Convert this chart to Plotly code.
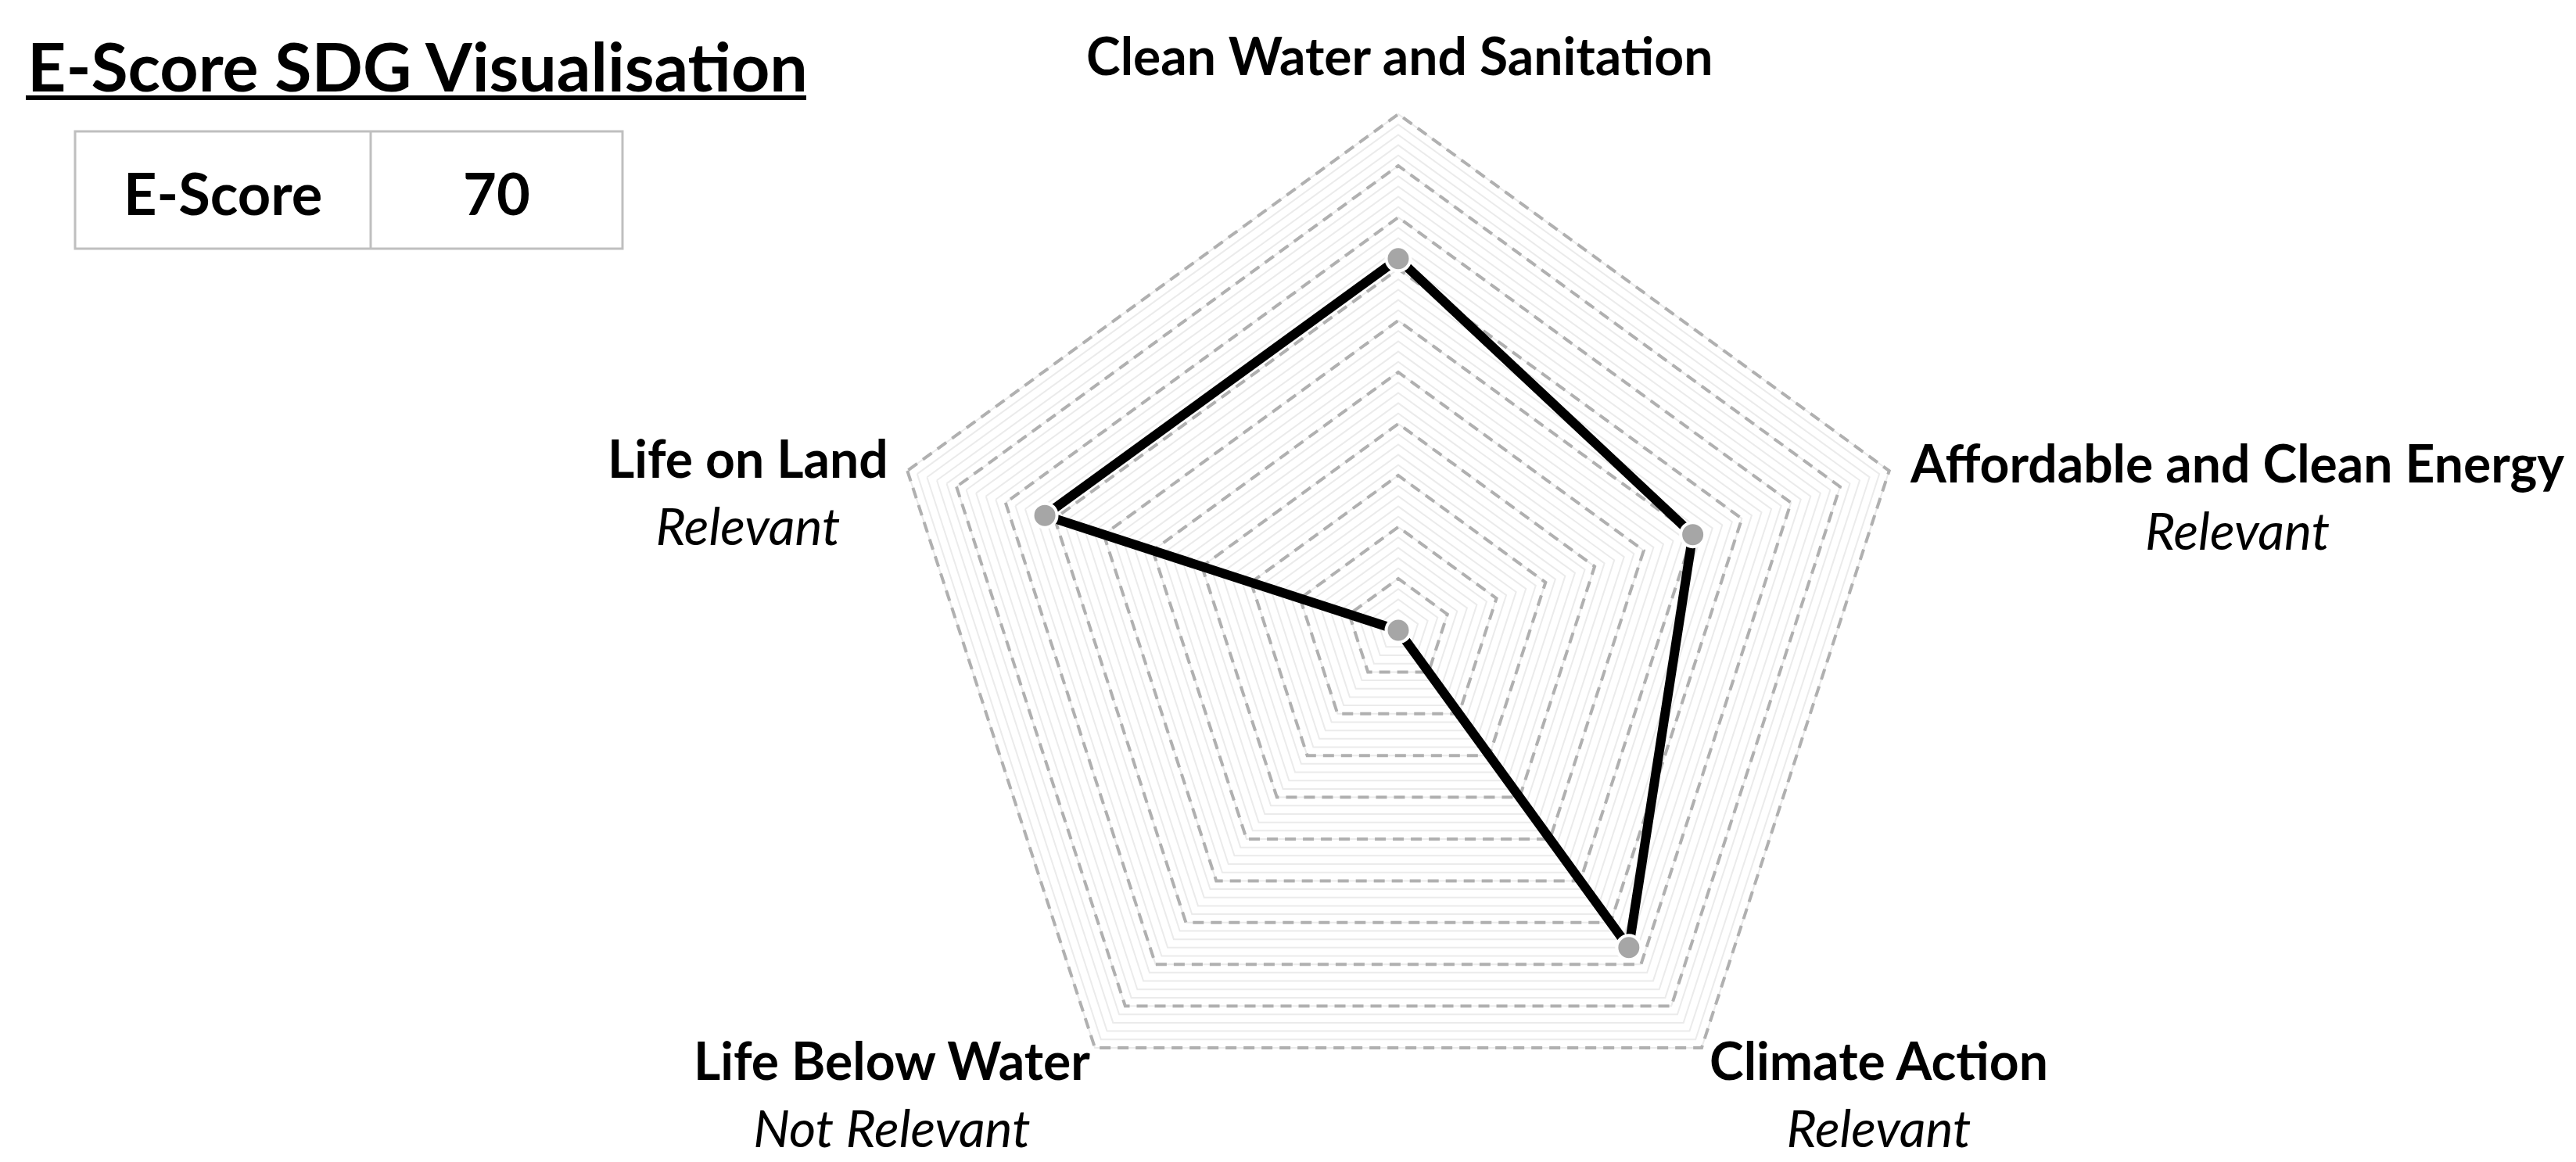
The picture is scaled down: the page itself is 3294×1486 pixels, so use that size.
import plotly.graph_objects as go

# === データ ===
goals = ["Clean Water and Sanitation", "Affordable and Clean Energy", "Climate Action",
         "Life Below Water", "Life on Land"]
scores = [72, 60, 76, 0, 72]
relevance = ["", "Relevant", "Relevant", "Not Relevant", "Relevant"]

# E-Score = relevant な SDG の平均
rel_scores = [s for s, r in zip(scores, relevance) if r != "Not Relevant"]
e_score = round(sum(rel_scores) / len(rel_scores))

W, H = 3294, 1486
FONT = "Lato"


def px(x):
    return x / W


def py(y):
    return 1 - y / H


# レーダーの中心と半径 (px)
cx, cy, R = 1780, 798, 662
dom_x = [px(cx - R), px(cx + R)]
dom_y = [py(cy + R), py(cy - R)]
r_range = [0, 100.3]

fig = go.Figure()

# 線
fig.add_trace(go.Scatterpolar(
    r=scores + scores[:1],
    theta=goals + goals[:1],
    mode="lines",
    line=dict(color="black", width=12),
    cliponaxis=True,
    subplot="polar2",
    showlegend=False,
    hoverinfo="skip",
))
# マーカー (cliponaxis=False だと中心の点が消える)
fig.add_trace(go.Scatterpolar(
    r=scores,
    theta=goals,
    mode="markers",
    marker=dict(size=31, color="#a6a6a6", line=dict(color="white", width=4)),
    cliponaxis=True,
    subplot="polar2",
    showlegend=False,
    hoverinfo="skip",
))

angular = dict(
    categoryarray=goals, categoryorder="array",
    rotation=90, direction="clockwise",
    showgrid=False, showline=False, showticklabels=False, ticks="",
)

fig.update_layout(
    width=W, height=H,
    margin=dict(l=0, r=0, t=0, b=0),
    paper_bgcolor="white",
    plot_bgcolor="white",
    font=dict(family=FONT, color="black"),
    # 細い補助グリッド
    polar=dict(
        domain=dict(x=dom_x, y=dom_y),
        gridshape="linear",
        bgcolor="white",
        radialaxis=dict(range=r_range, tick0=0, dtick=2, showticklabels=False, ticks="",
                        showline=False, gridcolor="#ebebeb", gridwidth=2),
        angularaxis=dict(angular, type="category"),
    ),
    # 破線の主グリッド
    polar2=dict(
        domain=dict(x=dom_x, y=dom_y),
        gridshape="linear",
        bgcolor="rgba(0,0,0,0)",
        radialaxis=dict(range=r_range, tick0=0, dtick=10, showticklabels=False, ticks="",
                        showline=False, gridcolor="#b0b0b0", gridwidth=3.5,
                        griddash="14px,9px"),
        angularaxis=dict(angular, type="category"),
    ),
)

# 補助グリッド用のダミー (polar を表示させる)
fig.add_trace(go.Scatterpolar(r=[0], theta=goals[:1], subplot="polar", mode="markers",
                              marker=dict(opacity=0), showlegend=False, hoverinfo="skip"))

# === 軸ラベル ===
label_pos = {
    "Clean Water and Sanitation": (1781, 62),
    "Affordable and Clean Energy": (2852, 626),
    "Climate Action": (2394, 1390),
    "Life Below Water": (1132, 1390),
    "Life on Land": (948, 620),
}
for g, rel in zip(goals, relevance):
    x, y = label_pos[g]
    text = f"<b>{g}</b>" + (f"<br><i>{rel}</i>" if rel else "")
    fig.add_annotation(x=px(x), y=py(y), xref="paper", yref="paper", text=text,
                       showarrow=False, xanchor="center", yanchor="middle",
                       align="center", font=dict(size=66, family=FONT, color="black"))

# === タイトル ===
fig.add_annotation(x=px(25), y=py(76), xref="paper", yref="paper",
                   text="<b>E-Score SDG Visualisation</b>", showarrow=False,
                   xanchor="left", yanchor="middle", font=dict(size=86, family=FONT))
fig.add_shape(type="line", xref="paper", yref="paper",
              x0=px(25), x1=px(1023), y0=py(117), y1=py(117),
              line=dict(color="black", width=6))

# === E-Score ボックス ===
box = dict(color="#bfbfbf", width=3)
fig.add_shape(type="rect", xref="paper", yref="paper",
              x0=px(88), x1=px(788), y0=py(310), y1=py(160), line=box)
fig.add_shape(type="line", xref="paper", yref="paper",
              x0=px(466), x1=px(466), y0=py(310), y1=py(160), line=box)
fig.add_annotation(x=px(277), y=py(238), xref="paper", yref="paper", text="<b>E-Score</b>",
                   showarrow=False, xanchor="center", yanchor="middle",
                   font=dict(size=74, family=FONT))
fig.add_annotation(x=px(627), y=py(238), xref="paper", yref="paper", text=f"<b>{e_score}</b>",
                   showarrow=False, xanchor="center", yanchor="middle",
                   font=dict(size=74, family=FONT))

fig.write_html("out.html")
